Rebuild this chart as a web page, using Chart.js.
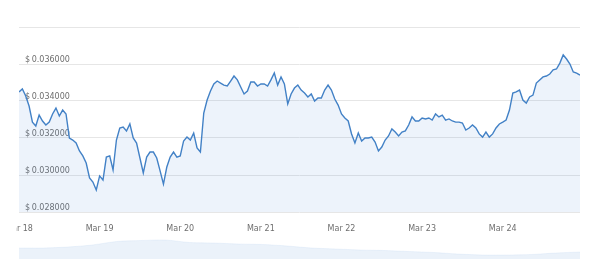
<!DOCTYPE html>
<html>
<head>
<meta charset="utf-8">
<script src="https://cdn.jsdelivr.net/npm/chart.js@4.4.1/dist/chart.umd.min.js"></script>
<style>
  html, body { margin: 0; padding: 0; background: #fff; }
  #wrap { position: relative; width: 600px; height: 260px; overflow: hidden; }
  #clip { position: absolute; left: 16px; top: 0; width: 584px; height: 235px; overflow: hidden; }
  #priceChart { display: block; margin-left: -16px; }
  #navChart { position: absolute; left: 0; top: 236px; display: block; }
</style>
</head>
<body>
<div id="wrap">
  <div id="clip"><canvas id="priceChart" width="600" height="235"></canvas></div>
  <canvas id="navChart" width="600" height="24"></canvas>
</div>
<script>
// hourly prices, Mar 18 00:00 -> Mar 24 23:00
var prices = [
  0.03449, 0.03465, 0.03427, 0.03373, 0.03286, 0.03265, 0.03324, 0.03292, 0.03270, 0.03286, 0.03330, 0.03362,
  0.03319, 0.03351, 0.03330, 0.03200, 0.03189, 0.03173, 0.03130, 0.03103, 0.03065, 0.02984, 0.02962, 0.02919,
  0.02995, 0.02973, 0.03097, 0.03103, 0.03027, 0.03189, 0.03254, 0.03259, 0.03238, 0.03276, 0.03200, 0.03173,
  0.03092, 0.03011, 0.03097, 0.03124, 0.03124, 0.03092, 0.03022, 0.02951, 0.03043, 0.03097, 0.03124, 0.03097,
  0.03103, 0.03184, 0.03205, 0.03189, 0.03227, 0.03146, 0.03124, 0.03335, 0.03405, 0.03454, 0.03492, 0.03508,
  0.03497, 0.03486, 0.03481, 0.03508, 0.03535, 0.03514, 0.03476, 0.03438, 0.03454, 0.03503, 0.03503, 0.03481,
  0.03492, 0.03492, 0.03481, 0.03514, 0.03551, 0.03486, 0.03530, 0.03492, 0.03384, 0.03438, 0.03470, 0.03486,
  0.03459, 0.03443, 0.03422, 0.03438, 0.03400, 0.03416, 0.03416, 0.03459, 0.03486, 0.03459, 0.03411, 0.03378,
  0.03330, 0.03308, 0.03292, 0.03222, 0.03173, 0.03227, 0.03184, 0.03200, 0.03200, 0.03205, 0.03178, 0.03130,
  0.03151, 0.03189, 0.03211, 0.03249, 0.03232, 0.03211, 0.03232, 0.03238, 0.03270, 0.03314, 0.03292, 0.03292,
  0.03308, 0.03303, 0.03308, 0.03297, 0.03330, 0.03314, 0.03324, 0.03297, 0.03303, 0.03292, 0.03286, 0.03286,
  0.03281, 0.03243, 0.03254, 0.03270, 0.03254, 0.03222, 0.03205, 0.03232, 0.03205, 0.03222, 0.03254, 0.03276,
  0.03286, 0.03297, 0.03351, 0.03443, 0.03449, 0.03459, 0.03405, 0.03389, 0.03422, 0.03432, 0.03497, 0.03514,
  0.03530, 0.03535, 0.03546, 0.03568, 0.03573, 0.03605, 0.03649, 0.03627, 0.03600, 0.03557, 0.03551, 0.03540
];
var dayLabels = ['Mar 18', 'Mar 19', 'Mar 20', 'Mar 21', 'Mar 22', 'Mar 23', 'Mar 24'];
var yTicks = [0.028, 0.030, 0.032, 0.034, 0.036, 0.038];
// navigator overview series
var navPrices = [
  0.03176, 0.03176, 0.03229, 0.03334, 0.03517, 0.03569, 0.03596, 0.03465,
  0.03438, 0.03386, 0.03360, 0.03281, 0.03176, 0.03124, 0.03072, 0.03045,
  0.02993, 0.02941, 0.02862, 0.02810, 0.02810, 0.02836, 0.02914, 0.02967
];

var lineColor = '#4281c6';
var fillColor = 'rgba(74, 140, 214, 0.10)';
var gridColor = '#e6e6e6';
var textColor = '#6e6e6e';
var font = { family: 'DejaVu Sans', size: 8 };

var priceData = prices.map(function (p, i) { return { x: i, y: p }; });

var ctx1 = document.getElementById('priceChart').getContext('2d');
var priceChart = new Chart(ctx1, {
    type: 'line',
    data: {
        datasets: [{
            data: priceData,
            borderColor: lineColor,
            borderWidth: 1.4,
            backgroundColor: fillColor,
            fill: 'start',
            pointRadius: 0,
            tension: 0
        }]
    },
    options: {
        responsive: false,
        animation: false,
        layout: { padding: { left: 19, right: 20, top: 27, bottom: 0 } },
        plugins: { legend: { display: false }, tooltip: { enabled: false } },
        scales: {
            x: {
                type: 'linear',
                min: 0,
                max: prices.length - 1,
                grid: { display: false },
                border: { display: false },
                ticks: {
                    stepSize: 24,
                    autoSkip: false,
                    maxRotation: 0,
                    padding: 4,
                    color: textColor,
                    font: font,
                    callback: function (v) {
                        return (v % 24 === 0 && dayLabels[v / 24]) ? dayLabels[v / 24] : '';
                    }
                },
                afterFit: function (s) { s.height = 23; }
            },
            y: {
                min: yTicks[0],
                max: yTicks[yTicks.length - 1],
                afterBuildTicks: function (s) {
                    s.ticks = yTicks.map(function (v) { return { value: v }; });
                },
                grid: { color: gridColor, drawTicks: false },
                border: { display: false },
                ticks: {
                    mirror: true,
                    padding: 6,
                    labelOffset: -4,
                    color: textColor,
                    font: font,
                    callback: function (v) {
                        return v >= yTicks[yTicks.length - 1] - 1e-9 ? '' : '$\u2009' + v.toFixed(6);
                    }
                },
                afterFit: function (s) { s.width = 0; }
            }
        }
    }
});

var navData = navPrices.map(function (p, i) { return { x: i, y: p }; });
var ctx2 = document.getElementById('navChart').getContext('2d');
var navChart = new Chart(ctx2, {
    type: 'line',
    data: {
        datasets: [{
            data: navData,
            borderColor: 'rgba(74, 140, 214, 0.08)',
            borderWidth: 1,
            backgroundColor: 'rgba(74, 140, 214, 0.11)',
            fill: 'start',
            pointRadius: 0,
            tension: 0.3
        }]
    },
    options: {
        responsive: false,
        animation: false,
        layout: { padding: { left: 19, right: 20, top: 2, bottom: 1 } },
        plugins: { legend: { display: false }, tooltip: { enabled: false } },
        scales: {
            x: { type: 'linear', min: 0, max: navPrices.length - 1, display: false },
            y: { min: 0.026, max: 0.037, display: false }
        }
    }
});
</script>
</body>
</html>
